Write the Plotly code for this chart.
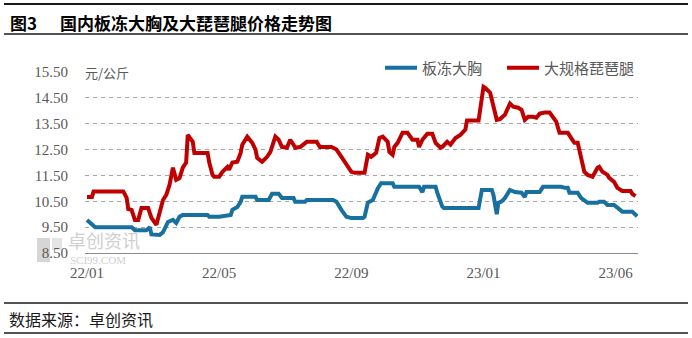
import plotly.graph_objects as go

# ---- data ----
tick_vals = [0, 80, 160, 240, 320]
tick_text = ["22/01", "22/05", "22/09", "23/01", "23/06"]
y_ticks = [8.5, 9.5, 10.5, 11.5, 12.5, 13.5, 14.5, 15.5]

breast_name = "板冻大胸"
breast_x = [0, 3, 5, 27, 29, 36, 38, 39, 44, 46, 49, 52, 54, 56, 58, 73, 74, 80, 87, 88,
            91, 93, 94, 102, 103, 110, 112, 116, 118, 125, 126, 132, 133, 149, 151, 154,
            157, 160, 167, 168, 170, 173, 176, 178, 185, 186, 201, 203, 204, 211, 212,
            215, 216, 237, 239, 245, 246, 248, 249, 251, 253, 256, 259, 263, 265, 266,
            274, 276, 287, 289, 291, 292, 297, 299, 303, 309, 310, 313, 315, 319, 321,
            324, 330, 332, 333]
breast_y = [9.78, 9.6, 9.5, 9.5, 9.38, 9.38, 9.5, 9.22, 9.2, 9.3, 9.7, 9.78, 9.66, 9.9,
            9.97, 9.97, 9.9, 9.9, 9.97, 10.17, 10.28, 10.48, 10.68, 10.68, 10.55, 10.55,
            10.79, 10.79, 10.63, 10.63, 10.48, 10.48, 10.55, 10.55, 10.48, 10.17, 9.9,
            9.85, 9.85, 9.9, 10.45, 10.55, 11.0, 11.2, 11.2, 11.06, 11.06, 10.85, 11.06,
            11.06, 10.83, 10.3, 10.24, 10.24, 10.94, 10.94, 10.75, 10.0, 10.44, 10.5,
            10.63, 10.94, 10.86, 10.83, 10.67, 10.86, 10.86, 11.06, 11.06, 11.02, 11.02,
            10.83, 10.83, 10.63, 10.44, 10.44, 10.48, 10.48, 10.36, 10.36, 10.24, 10.1,
            10.1, 9.94, 9.92]

drum_name = "大规格琵琶腿"
drum_x = [0, 3, 4, 22, 24, 25, 27, 29, 31, 33, 37, 39, 42, 44, 46, 48, 50, 52, 54, 56,
          58, 60, 61, 64, 65, 73, 74, 76, 77, 80, 82, 85, 86, 88, 91, 93, 94, 97, 100,
          102, 103, 106, 109, 111, 113, 114, 116, 118, 121, 123, 125, 126, 129, 131,
          133, 139, 141, 148, 151, 154, 156, 158, 160, 162, 167, 168, 170, 172, 175,
          177, 179, 182, 183, 185, 186, 188, 191, 194, 197, 200, 201, 203, 206, 209,
          211, 214, 215, 218, 220, 223, 226, 229, 230, 237, 240, 241, 244, 246, 248,
          250, 253, 256, 258, 261, 263, 265, 267, 270, 272, 274, 277, 280, 282, 284,
          286, 291, 293, 295, 297, 299, 301, 303, 306, 309, 310, 312, 315, 316, 319,
          321, 324, 329, 330, 332]
drum_y = [10.67, 10.67, 10.88, 10.88, 10.63, 10.2, 10.17, 9.78, 9.78, 10.24, 10.24, 9.86,
          9.59, 10.05, 10.55, 10.75, 11.14, 11.8, 11.33, 11.4, 11.8, 12.0, 13.07, 12.8,
          12.37, 12.37, 12.0, 11.52, 11.45, 11.45, 11.64, 11.83, 11.72, 12.0, 12.03,
          12.37, 12.69, 13.0, 12.76, 12.5, 12.18, 12.03, 12.22, 12.41, 12.76, 13.0,
          12.88, 12.6, 12.57, 12.88, 12.69, 12.57, 12.6, 12.69, 12.8, 12.8, 12.6, 12.6,
          12.5, 12.22, 12.03, 11.83, 11.64, 11.6, 11.6, 11.6, 12.3, 12.22, 12.37, 12.95,
          13.0, 12.8, 12.41, 12.3, 12.6, 12.76, 13.15, 13.15, 12.88, 12.88, 12.6, 12.88,
          13.11, 13.11, 12.76, 12.57, 12.6, 12.8, 12.69, 12.95, 13.07, 13.27, 13.62,
          13.62, 14.93, 14.89, 14.7, 14.12, 13.65, 13.68, 13.85, 14.28, 14.16, 14.12,
          14.04, 13.65, 13.77, 13.77, 13.73, 13.89, 13.93, 13.93, 13.77, 13.58, 13.15,
          13.15, 12.95, 12.76, 12.76, 12.22, 11.64, 11.52, 11.45, 11.8, 11.83, 11.64,
          11.52, 11.41, 11.25, 11.02, 10.9, 10.9, 10.79, 10.7]

title_no = "图3"
title_text = "国内板冻大胸及大琵琶腿价格走势图"
source_text = "数据来源：卓创资讯"
unit_text = "元/公斤"

# ---- figure ----
W, H = 692, 338
L, R, T, B = 85, 54, 72, 85
pw, ph = W - L - R, H - T - B


def px(x):
    return (x - L) / pw


def py(y):
    return (H - B - y) / ph


blue = "#17709F"
red = "#C00000"
grey = "#595959"
tick_font = dict(family="Liberation Serif", size=15, color=grey)
cjk = "Noto Sans CJK SC"

fig = go.Figure()
fig.add_trace(go.Scatter(x=breast_x, y=breast_y, mode="lines", name=breast_name,
                         line=dict(color=blue, width=4), legend="legend"))
fig.add_trace(go.Scatter(x=drum_x, y=drum_y, mode="lines", name=drum_name,
                         line=dict(color=red, width=4), legend="legend2"))

leg_common = dict(orientation="h", xanchor="left", yanchor="middle", y=py(68),
                  font=dict(family=cjk, size=15, color=grey), bgcolor="rgba(0,0,0,0)",
                  borderwidth=0, itemwidth=32)

fig.update_layout(
    width=W, height=H,
    margin=dict(l=L, r=R, t=T, b=B, pad=0),
    paper_bgcolor="white", plot_bgcolor="white",
    showlegend=True,
    legend=dict(x=px(380), **leg_common),
    legend2=dict(x=px(502), **leg_common),
    xaxis=dict(range=[-1.2, 333.5], tickvals=tick_vals, ticktext=tick_text,
               showgrid=False, zeroline=False, showline=True, linecolor="#8c8c8c",
               linewidth=1, ticks="", tickfont=tick_font, ticklabelstandoff=6),
    yaxis=dict(range=[8.5, 15.5], tickvals=y_ticks, tickformat=".2f",
               showgrid=True, gridcolor="#a6a6a6", gridwidth=1, griddash="4px,4px",
               zeroline=False, showline=False, ticks="", tickfont=tick_font,
               ticklabelstandoff=16),
)

shapes = []
for yy, wdt in [(4, 2), (34, 1.5), (303, 1.5), (333, 1.5)]:
    shapes.append(dict(type="line", xref="paper", yref="paper", x0=px(4), x1=px(688),
                       y0=py(yy), y1=py(yy), line=dict(color="#1a1a1a", width=wdt)))
# watermark icon
shapes.append(dict(type="rect", xref="paper", yref="paper", x0=px(37), x1=px(50),
                   y0=py(262), y1=py(238), line=dict(width=0), fillcolor="#d6d6d6",
                   layer="below"))
shapes.append(dict(type="rect", xref="paper", yref="paper", x0=px(52), x1=px(62),
                   y0=py(250), y1=py(238), line=dict(width=0), fillcolor="#e4e4e4",
                   layer="below"))
fig.update_layout(shapes=shapes)

ann = [
    dict(text="<b>" + title_no + "</b>", x=px(8), y=py(22), xanchor="left", yanchor="middle",
         font=dict(family=cjk, size=17, color="#000")),
    dict(text="<b>" + title_text + "</b>", x=px(58), y=py(22), xanchor="left",
         yanchor="middle", font=dict(family=cjk, size=17, color="#000")),
    dict(text=source_text, x=px(7), y=py(319), xanchor="left", yanchor="middle",
         font=dict(family=cjk, size=16, color="#1a1a1a")),
    dict(text=unit_text, x=px(83), y=py(72), xanchor="left", yanchor="middle",
         font=dict(family=cjk, size=13, color=grey), bgcolor="white"),
    dict(text="卓创资讯", x=px(66), y=py(240), xanchor="left", yanchor="middle",
         font=dict(family=cjk, size=18, color="#d0d0d0")),
    dict(text="SCI99.COM", x=px(68), y=py(260), xanchor="left", yanchor="middle",
         font=dict(family="Liberation Serif", size=11, color="#d0d0d0")),
]
for a in ann:
    a.update(xref="paper", yref="paper", showarrow=False)
fig.update_layout(annotations=ann)

fig.write_html("out.html")
